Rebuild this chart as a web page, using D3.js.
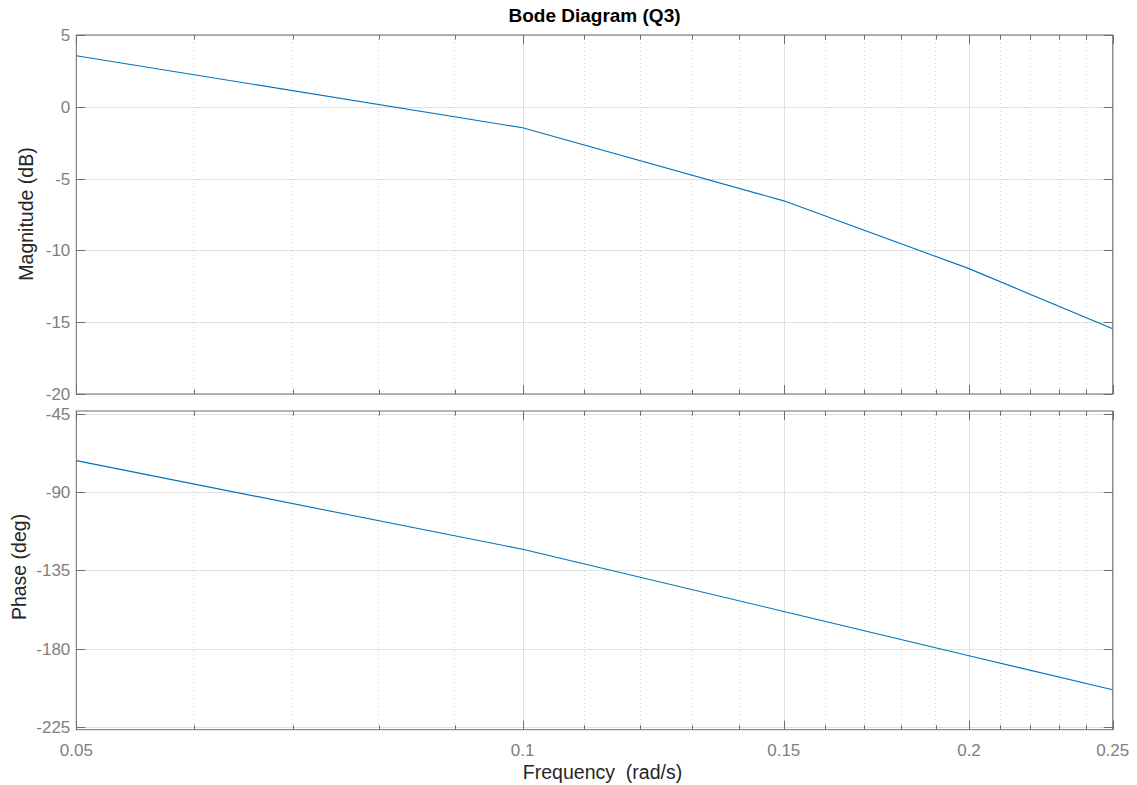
<!DOCTYPE html>
<html>
<head>
<meta charset="utf-8">
<script src="https://cdn.jsdelivr.net/npm/d3@7"></script>
<style>
	body { margin: 0; background: #fff; }
	text { font-family: "Liberation Sans", Arial, Helvetica, sans-serif; }
	.tickLabel { fill: #808080; font-size: 17px; }
	.axisLabel { fill: #262626; font-size: 19.5px; }
	.title { fill: #000; font-size: 19px; font-weight: bold; }
</style>
</head>
<body>
<svg id="bode"></svg>
<script>
'use strict'

// frequency points (rad/s) and the response:
const freqs    = [0.05, 0.1, 0.15, 0.2, 0.25]
const magDb    = [3.56, -1.46, -6.55, -11.27, -15.46]
const phaseDeg = [-72.0, -122.9, -158.6, -184.0, -203.6]

// tick values:
const xTicks      = [0.05, 0.1, 0.15, 0.2, 0.25]
const xMinorTicks = [0.06, 0.07, 0.08, 0.09, 0.11, 0.12, 0.13, 0.14, 0.16, 0.17, 0.18, 0.19, 0.21, 0.22, 0.23, 0.24]
const magTicks    = [5, 0, -5, -10, -15, -20]
const phaseTicks  = [-45, -90, -135, -180, -225]

const width = 1137, height = 785
const left = 76.3, right = 1112.7

const svg = d3.select('#bode').attr('width', width).attr('height', height)

// shared log frequency scale:
const x = d3.scaleLog().domain([0.05, 0.25]).range([left, right])

// one panel (grid, box, ticks, curve):
function drawPanel (yDomain, yRange, yTicks, values, showXLabels) {
	const y = d3.scaleLinear().domain(yDomain).range(yRange)
	const top = yRange[1], bottom = yRange[0]
	const g = svg.append('g')

	// minor x grid (dotted):
	g.selectAll('.minorGrid').data(xMinorTicks).enter().append('line')
		.attr('x1', d => x(d)).attr('x2', d => x(d))
		.attr('y1', top).attr('y2', bottom)
		.attr('stroke', '#d4d4d4').attr('stroke-dasharray', '1,3')
		.attr('shape-rendering', 'crispEdges')

	// major grids:
	g.selectAll('.xGrid').data(xTicks).enter().append('line')
		.attr('x1', d => Math.round(x(d)) + 0.5).attr('x2', d => Math.round(x(d)) + 0.5)
		.attr('y1', top).attr('y2', bottom)
		.attr('stroke', '#e0e0e0')
	g.selectAll('.yGrid').data(yTicks).enter().append('line')
		.attr('x1', left).attr('x2', right)
		.attr('y1', d => Math.round(y(d)) + 0.5).attr('y2', d => Math.round(y(d)) + 0.5)
		.attr('stroke', '#e0e0e0')

	// curve:
	const line = d3.line().x(d => x(d[0])).y(d => y(d[1]))
	g.append('path')
		.datum(d3.zip(freqs, values))
		.attr('d', line)
		.attr('fill', 'none')
		.attr('stroke', '#0072BD')
		.attr('stroke-width', 1.1)

	// ticks on all four sides (pointing inwards):
	const tickColor = '#6e6e6e'
	const xTickMarks = xTicks.map(d => ({v: d, len: 9})).concat(xMinorTicks.map(d => ({v: d, len: 4.5})))
	g.selectAll('.xTickB').data(xTickMarks).enter().append('line')
		.attr('x1', d => Math.round(x(d.v)) + 0.5).attr('x2', d => Math.round(x(d.v)) + 0.5)
		.attr('y1', bottom).attr('y2', d => bottom - d.len)
		.attr('stroke', tickColor)
	g.selectAll('.xTickT').data(xTickMarks).enter().append('line')
		.attr('x1', d => Math.round(x(d.v)) + 0.5).attr('x2', d => Math.round(x(d.v)) + 0.5)
		.attr('y1', top).attr('y2', d => top + d.len)
		.attr('stroke', tickColor)
	g.selectAll('.yTickL').data(yTicks).enter().append('line')
		.attr('x1', left).attr('x2', left + 9)
		.attr('y1', d => Math.round(y(d)) + 0.5).attr('y2', d => Math.round(y(d)) + 0.5)
		.attr('stroke', tickColor)
	g.selectAll('.yTickR').data(yTicks).enter().append('line')
		.attr('x1', right).attr('x2', right - 9)
		.attr('y1', d => Math.round(y(d)) + 0.5).attr('y2', d => Math.round(y(d)) + 0.5)
		.attr('stroke', tickColor)

	// box:
	g.append('rect')
		.attr('x', left).attr('y', top)
		.attr('width', right - left).attr('height', bottom - top)
		.attr('fill', 'none').attr('stroke', tickColor)

	// y tick labels:
	g.selectAll('.yLabel').data(yTicks).enter().append('text')
		.classed('tickLabel', true)
		.attr('x', left - 6).attr('y', d => y(d))
		.attr('dy', '0.35em')
		.attr('text-anchor', 'end')
		.text(d => d)

	if (showXLabels) {
		g.selectAll('.xLabel').data(xTicks).enter().append('text')
			.classed('tickLabel', true)
			.attr('x', d => x(d)).attr('y', bottom + 26)
			.attr('text-anchor', 'middle')
			.text(d => d)
	}
	return y
}

drawPanel([-20, 5], [394, 35], magTicks, magDb, false)
drawPanel([-226.5, -43.5], [729.7, 411], phaseTicks, phaseDeg, true)

// titles and axis labels:
svg.append('text').classed('title', true)
	.attr('x', (left + right) / 2).attr('y', 22)
	.attr('text-anchor', 'middle')
	.text('Bode Diagram (Q3)')
svg.append('text').classed('axisLabel', true)
	.attr('x', (left + right) / 2 + 8).attr('y', 779)
	.attr('text-anchor', 'middle')
	.style('white-space', 'pre')
	.text('Frequency  (rad/s)')
svg.append('text').classed('axisLabel', true)
	.attr('transform', 'translate(33,214) rotate(-90)')
	.attr('text-anchor', 'middle')
	.text('Magnitude (dB)')
svg.append('text').classed('axisLabel', true)
	.attr('transform', 'translate(26,567) rotate(-90)')
	.attr('text-anchor', 'middle')
	.text('Phase (deg)')
</script>
</body>
</html>
